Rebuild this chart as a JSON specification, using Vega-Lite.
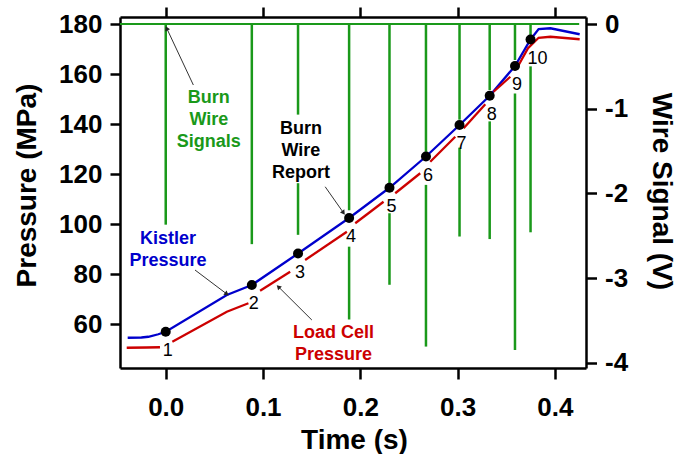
{
  "$schema": "https://vega.github.io/schema/vega-lite/v6.json",
  "width": 466,
  "height": 351,
  "autosize": "none",
  "padding": {"left": 120, "top": 17, "right": 91, "bottom": 86},
  "background": "white",
  "config": {
    "view": {"stroke": null},
    "font": "Liberation Sans",
    "axis": {
      "domainColor": "black", "domainWidth": 2.5,
      "tickColor": "black", "tickWidth": 2.5, "tickSize": 10,
      "labelFont": "Liberation Sans", "labelFontWeight": "bold", "labelFontSize": 26, "labelColor": "black",
      "titleFont": "Liberation Sans", "titleFontWeight": "bold", "titleFontSize": 28, "titleColor": "black",
      "grid": false
    }
  },
  "datasets": {
    "pressure": [
      {"name": "Kistler Pressure", "seg": "k", "t": -0.0391, "P": 54.5},
      {"name": "Kistler Pressure", "seg": "k", "t": -0.025, "P": 54.6},
      {"name": "Kistler Pressure", "seg": "k", "t": -0.0179, "P": 54.9},
      {"name": "Kistler Pressure", "seg": "k", "t": -0.0076, "P": 55.9},
      {"name": "Kistler Pressure", "seg": "k", "t": 0, "P": 56.9},
      {"name": "Kistler Pressure", "seg": "k", "t": 0.0628, "P": 71.6},
      {"name": "Kistler Pressure", "seg": "k", "t": 0.0885, "P": 75.6},
      {"name": "Kistler Pressure", "seg": "k", "t": 0.136, "P": 88.2},
      {"name": "Kistler Pressure", "seg": "k", "t": 0.1885, "P": 102.4},
      {"name": "Kistler Pressure", "seg": "k", "t": 0.23, "P": 114.5},
      {"name": "Kistler Pressure", "seg": "k", "t": 0.2675, "P": 127.0},
      {"name": "Kistler Pressure", "seg": "k", "t": 0.302, "P": 139.6},
      {"name": "Kistler Pressure", "seg": "k", "t": 0.333, "P": 151.3},
      {"name": "Kistler Pressure", "seg": "k", "t": 0.359, "P": 163.2},
      {"name": "Kistler Pressure", "seg": "k", "t": 0.375, "P": 173.8},
      {"name": "Kistler Pressure", "seg": "k", "t": 0.3833, "P": 178.0},
      {"name": "Kistler Pressure", "seg": "k", "t": 0.3954, "P": 178.3},
      {"name": "Kistler Pressure", "seg": "k", "t": 0.4255, "P": 175.9},
      {"name": "Load Cell Pressure", "seg": "a", "t": -0.0401, "P": 50.5},
      {"name": "Load Cell Pressure", "seg": "a", "t": -0.02, "P": 50.6},
      {"name": "Load Cell Pressure", "seg": "a", "t": -0.0059, "P": 50.7},
      {"name": "Load Cell Pressure", "seg": "b", "t": 0.0068, "P": 52.9},
      {"name": "Load Cell Pressure", "seg": "b", "t": 0.0628, "P": 64.9},
      {"name": "Load Cell Pressure", "seg": "b", "t": 0.085, "P": 68.3},
      {"name": "Load Cell Pressure", "seg": "c", "t": 0.097, "P": 73.3},
      {"name": "Load Cell Pressure", "seg": "c", "t": 0.1279, "P": 80.9},
      {"name": "Load Cell Pressure", "seg": "d", "t": 0.1433, "P": 85.6},
      {"name": "Load Cell Pressure", "seg": "d", "t": 0.1862, "P": 96.9},
      {"name": "Load Cell Pressure", "seg": "e", "t": 0.1948, "P": 100.3},
      {"name": "Load Cell Pressure", "seg": "e", "t": 0.2239, "P": 108.9},
      {"name": "Load Cell Pressure", "seg": "f", "t": 0.2359, "P": 112.3},
      {"name": "Load Cell Pressure", "seg": "f", "t": 0.2616, "P": 120.3},
      {"name": "Load Cell Pressure", "seg": "g", "t": 0.2719, "P": 124.9},
      {"name": "Load Cell Pressure", "seg": "g", "t": 0.2976, "P": 134.9},
      {"name": "Load Cell Pressure", "seg": "h", "t": 0.3062, "P": 138.3},
      {"name": "Load Cell Pressure", "seg": "h", "t": 0.3285, "P": 147.9},
      {"name": "Load Cell Pressure", "seg": "i", "t": 0.337, "P": 152.9},
      {"name": "Load Cell Pressure", "seg": "i", "t": 0.3542, "P": 158.9},
      {"name": "Load Cell Pressure", "seg": "j", "t": 0.3628, "P": 163.6},
      {"name": "Load Cell Pressure", "seg": "j", "t": 0.3724, "P": 170.3},
      {"name": "Load Cell Pressure", "seg": "j", "t": 0.3833, "P": 174.5},
      {"name": "Load Cell Pressure", "seg": "j", "t": 0.3954, "P": 174.9},
      {"name": "Load Cell Pressure", "seg": "j", "t": 0.4255, "P": 173.9}
    ],
    "dots": [
      {"n": "1", "t": 0, "P": 56.9},
      {"n": "2", "t": 0.0885, "P": 75.6},
      {"n": "3", "t": 0.136, "P": 88.2},
      {"n": "4", "t": 0.1885, "P": 102.4},
      {"n": "5", "t": 0.23, "P": 114.5},
      {"n": "6", "t": 0.2675, "P": 127.0},
      {"n": "7", "t": 0.302, "P": 139.6},
      {"n": "8", "t": 0.333, "P": 151.3},
      {"n": "9", "t": 0.359, "P": 163.2},
      {"n": "10", "t": 0.375, "P": 173.8}
    ],
    "notes": [
      {"name": "Burn Wire Signals", "label": "Burn|Wire|Signals", "t": 0.0443, "P": 154.0},
      {"name": "Burn Wire Report", "label": "Burn|Wire|Report", "t": 0.139, "P": 141.5},
      {"name": "Kistler Pressure", "label": "Kistler|Pressure", "t": 0.0024, "P": 97.8},
      {"name": "Load Cell Pressure", "label": "Load Cell|Pressure", "t": 0.1725, "P": 60.0}
    ],
    "arrows": [
      {"name": "Burn Wire Signals", "t": 0.001, "P": 178.3, "t0": 0.0284, "P0": 155.6},
      {"name": "Burn Wire Report", "t": 0.1827, "P": 104.5, "t0": 0.1639, "P0": 114.9},
      {"name": "Kistler Pressure", "t": 0.0628, "P": 72.0, "t0": 0.0301, "P0": 81.6},
      {"name": "Load Cell Pressure", "t": 0.1158, "P": 74.9, "t0": 0.1502, "P0": 61.6}
    ],
    "wire": [
      {"name": "Burn Wire Signals", "t": 0, "v1": 0, "v2": -2.37},
      {"name": "Burn Wire Signals", "t": 0.0885, "v1": 0, "v2": -2.6},
      {"name": "Burn Wire Signals", "t": 0.136, "v1": 0, "v2": -1.07},
      {"name": "Burn Wire Signals", "t": 0.136, "v1": -1.88, "v2": -2.49},
      {"name": "Burn Wire Signals", "t": 0.1885, "v1": 0, "v2": -2.2},
      {"name": "Burn Wire Signals", "t": 0.1885, "v1": -2.63, "v2": -3.49},
      {"name": "Burn Wire Signals", "t": 0.23, "v1": 0, "v2": -1.88},
      {"name": "Burn Wire Signals", "t": 0.23, "v1": -2.235, "v2": -3.08},
      {"name": "Burn Wire Signals", "t": 0.2675, "v1": 0, "v2": -1.51},
      {"name": "Burn Wire Signals", "t": 0.2675, "v1": -1.9, "v2": -3.81},
      {"name": "Burn Wire Signals", "t": 0.302, "v1": 0, "v2": -1.13},
      {"name": "Burn Wire Signals", "t": 0.302, "v1": -1.46, "v2": -2.51},
      {"name": "Burn Wire Signals", "t": 0.333, "v1": 0, "v2": -0.78},
      {"name": "Burn Wire Signals", "t": 0.333, "v1": -1.15, "v2": -2.54},
      {"name": "Burn Wire Signals", "t": 0.359, "v1": 0, "v2": -0.425},
      {"name": "Burn Wire Signals", "t": 0.359, "v1": -0.82, "v2": -3.85},
      {"name": "Burn Wire Signals", "t": 0.375, "v1": 0, "v2": -0.13},
      {"name": "Burn Wire Signals", "t": 0.375, "v1": -0.5, "v2": -2.46}
    ],
    "baseline": [
      {"name": "Burn Wire Signals", "t": -0.047, "t2": 0.425, "v1": 0}
    ]
  },
  "layer": [
    {
      "encoding": {
        "x": {
          "field": "t", "type": "quantitative",
          "scale": {"domain": [-0.047, 0.432], "nice": false, "zero": false},
          "axis": {"orient": "top", "values": [0, 0.1, 0.2, 0.3, 0.4], "labels": false, "title": null, "tickSize": 10}
        },
        "y": {
          "field": "v1", "type": "quantitative",
          "scale": {"domain": [-4.063, 0.083], "nice": false, "zero": false},
          "axis": {
            "orient": "right", "values": [0, -1, -2, -3, -4],
            "labelExpr": "(datum.value < 0 ? '-' : '') + abs(datum.value)",
            "tickSize": 10.5, "labelPadding": 8,
            "title": "Wire Signal (V)", "titleAngle": 90, "titleX": 74, "titleY": 174,
            "titleAlign": "center", "titleBaseline": "middle"
          }
        },
        "color": {
          "field": "name", "type": "nominal",
          "scale": {
            "domain": ["Burn Wire Signals", "Kistler Pressure", "Load Cell Pressure", "Burn Wire Report"],
            "range": ["#1a991a", "#0000cc", "#cc0000", "#000000"]
          },
          "legend": null
        }
      },
      "layer": [
        {
          "data": {"name": "baseline"},
          "mark": {"type": "rule", "strokeWidth": 2},
          "encoding": {"x2": {"field": "t2"}}
        },
        {
          "data": {"name": "wire"},
          "mark": {"type": "rule", "strokeWidth": 2.5},
          "encoding": {"y2": {"field": "v2"}}
        }
      ]
    },
    {
      "encoding": {
        "x": {
          "field": "t", "type": "quantitative",
          "scale": {"domain": [-0.047, 0.432], "nice": false, "zero": false},
          "axis": {
            "orient": "bottom", "values": [0, 0.1, 0.2, 0.3, 0.4], "format": ".1f",
            "tickSize": 11, "labelPadding": 15,
            "title": "Time (s)", "titleX": 234, "titleY": 58, "titleBaseline": "top", "titleAlign": "center"
          }
        },
        "y": {
          "field": "P", "type": "quantitative",
          "scale": {"domain": [42.4, 182.8], "nice": false, "zero": false},
          "axis": {
            "orient": "left", "values": [60, 80, 100, 120, 140, 160, 180],
            "tickSize": 10, "labelPadding": 8,
            "title": "Pressure (MPa)", "titleAngle": -90, "titleX": -93, "titleY": 168,
            "titleAlign": "center", "titleBaseline": "middle"
          }
        }
      },
      "layer": [
        {
          "data": {"name": "pressure"},
          "mark": {"type": "line", "strokeWidth": 2.3},
          "encoding": {
            "color": {"field": "name", "type": "nominal", "legend": null},
            "detail": {"field": "seg"}
          }
        },
        {
          "data": {"name": "arrows"},
          "mark": {"type": "rule", "color": "#333333", "strokeWidth": 1},
          "encoding": {"x2": {"field": "t0"}, "y2": {"field": "P0"}}
        },
        {
          "data": {"name": "arrows"},
          "transform": [{"filter": "datum.name == 'Burn Wire Signals'"}],
          "mark": {"type": "point", "shape": "triangle-up", "filled": true, "color": "#222222", "size": 28, "angle": 335, "opacity": 1},
          "encoding": {}
        },
        {
          "data": {"name": "arrows"},
          "transform": [{"filter": "datum.name == 'Burn Wire Report'"}],
          "mark": {"type": "point", "shape": "triangle-up", "filled": true, "color": "#222222", "size": 28, "angle": 145, "opacity": 1},
          "encoding": {}
        },
        {
          "data": {"name": "arrows"},
          "transform": [{"filter": "datum.name == 'Kistler Pressure'"}],
          "mark": {"type": "point", "shape": "triangle-up", "filled": true, "color": "#222222", "size": 28, "angle": 127, "opacity": 1},
          "encoding": {}
        },
        {
          "data": {"name": "arrows"},
          "transform": [{"filter": "datum.name == 'Load Cell Pressure'"}],
          "mark": {"type": "point", "shape": "triangle-up", "filled": true, "color": "#222222", "size": 28, "angle": 315, "opacity": 1},
          "encoding": {}
        },
        {
          "data": {"name": "dots"},
          "mark": {"type": "point", "shape": "circle", "filled": true, "color": "black", "size": 100, "opacity": 1},
          "encoding": {}
        },
        {
          "data": {"name": "dots"},
          "mark": {"type": "text", "align": "left", "baseline": "middle", "dx": -3, "dy": 19, "fontSize": 18, "color": "black", "font": "Liberation Sans"},
          "encoding": {"text": {"field": "n"}}
        },
        {
          "data": {"name": "notes"},
          "mark": {"type": "text", "align": "center", "baseline": "top", "fontSize": 18, "fontWeight": "bold", "lineBreak": "|", "lineHeight": 22, "font": "Liberation Sans"},
          "encoding": {
            "text": {"field": "label"},
            "color": {"field": "name", "type": "nominal", "legend": null}
          }
        }
      ]
    }
  ],
  "resolve": {"scale": {"y": "independent"}, "axis": {"x": "independent"}}
}
